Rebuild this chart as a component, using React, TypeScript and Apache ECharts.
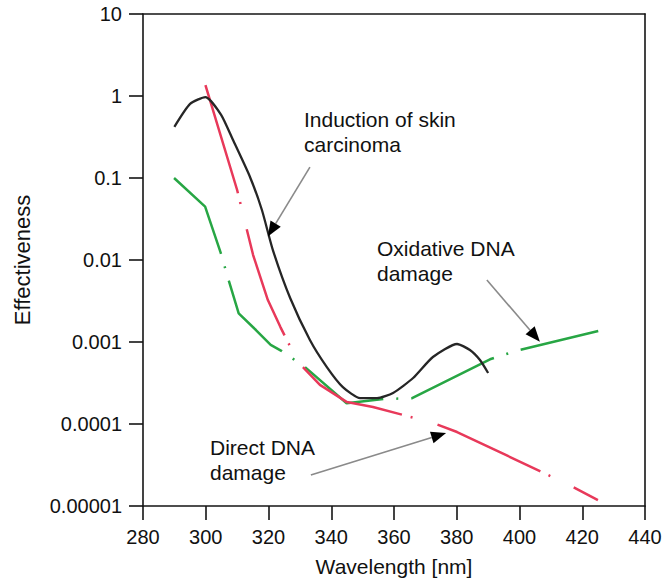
import React, { useEffect, useRef } from 'react';
import * as echarts from 'echarts';

// ---- data ----
const xTickValues = [280, 300, 320, 340, 360, 380, 400, 420, 440];
const yTickLabels = ['0.00001', '0.0001', '0.001', '0.01', '0.1', '1', '10'];

const skinWavelength = [290, 295, 299.9, 304.9, 308.7, 314.1, 317.9, 321.4, 326.9, 333.2, 338.6, 343.7, 349.2, 354.6, 359.7, 366.1, 372.4, 380.1, 384.2, 387.4, 390];
const skinEffect = [0.42, 0.8, 0.97, 0.59, 0.29, 0.103, 0.0407, 0.0132, 0.00344, 0.00106, 0.000495, 0.000282, 0.000207, 0.000207, 0.000239, 0.000364, 0.000656, 0.000946, 0.000798, 0.000602, 0.000419];

const directWavelength = [299.9, 310, 312.5, 315.1, 319.8, 323.8, 329.4, 336.4, 345, 353.3, 361.9, 372.4, 380.1, 406.5, 417, 425];
const directEffect = [1.36, 0.0714, 0.029, 0.0115, 0.00325, 0.00152, 0.00057, 0.0003, 0.000185, 0.000161, 0.000132, 0.000103, 0.0000798, 0.0000267, 0.0000171, 0.0000118];

const oxidWavelength = [289.9, 299.8, 304.8, 307.1, 310.5, 316, 320.7, 324.1, 331.6, 344.9, 356.7, 365.6, 390.6, 399.1, 425.1];
const oxidEffect = [0.1, 0.0447, 0.0121, 0.006, 0.00224, 0.0014, 0.00092, 0.00078, 0.000496, 0.000179, 0.000202, 0.000206, 0.000615, 0.000783, 0.00136];

const annotationTexts = ['Induction of skin\ncarcinoma', 'Oxidative DNA\ndamage', 'Direct DNA\ndamage'];
const annotationArrowFrom = [[333.2, 0.136], [389.6, 0.0057], [333.5, 0.0000239]];
const annotationArrowTo = [[319.8, 0.0194], [406.5, 0.00101], [376.6, 0.0000776]];

const FONT = '"Liberation Sans", Arial, Helvetica, sans-serif';

const pairs = (xs: number[], ys: number[]) => xs.map((x, i) => [x, ys[i]]);

export default function App() {
  const ref = useRef<HTMLDivElement>(null);

  useEffect(() => {
    document.body.style.margin = '0';
    const chart = echarts.init(ref.current!, null, { renderer: 'svg' });
    const axisLine = { show: true, lineStyle: { color: '#151515', width: 1.6 } };
    chart.setOption({
      animation: false,
      backgroundColor: '#ffffff',
      grid: { left: 143, right: 20, top: 14, bottom: 76, containLabel: false },
      xAxis: [
        {
          type: 'value', min: 280, max: 440, interval: 20, position: 'bottom',
          name: 'Wavelength [nm]', nameLocation: 'middle', nameGap: 50,
          nameTextStyle: { fontFamily: FONT, fontSize: 21, color: '#111' },
          axisLine,
          axisTick: { show: true, inside: false, length: 14, lineStyle: { color: '#151515', width: 1.6 } },
          axisLabel: { fontFamily: FONT, fontSize: 20, color: '#111', margin: 21,
            formatter: (v: number) => (xTickValues.includes(v) ? String(v) : '') },
          splitLine: { show: false },
        },
        {
          type: 'value', min: 280, max: 440, position: 'top',
          axisLine, axisTick: { show: false }, axisLabel: { show: false }, splitLine: { show: false },
        },
      ],
      yAxis: [
        {
          type: 'log', logBase: 10, min: 0.00001, max: 10, splitNumber: 6, position: 'left',
          name: 'Effectiveness', nameLocation: 'middle', nameGap: 110, nameRotate: 90,
          nameTextStyle: { fontFamily: FONT, fontSize: 22, color: '#111' },
          axisLine,
          axisTick: { show: true, inside: false, length: 14, lineStyle: { color: '#151515', width: 1.6 } },
          axisLabel: { fontFamily: FONT, fontSize: 20, color: '#111', margin: 21,
            formatter: (v: number) => yTickLabels[Math.round(Math.log10(v)) + 5] ?? '' },
          splitLine: { show: false },
          minorTick: { show: false },
        },
        {
          type: 'log', logBase: 10, min: 0.00001, max: 10, position: 'right',
          axisLine, axisTick: { show: false }, axisLabel: { show: false }, splitLine: { show: false },
        },
      ],
      series: [
        {
          name: 'Oxidative DNA damage', type: 'line', showSymbol: false, symbol: 'none',
          data: pairs(oxidWavelength, oxidEffect),
          lineStyle: { color: '#27a644', width: 2.5, type: [92, 13, 2, 13], cap: 'butt' },
          z: 2,
        },
        {
          name: 'Direct DNA damage', type: 'line', showSymbol: false, symbol: 'none',
          data: pairs(directWavelength, directEffect),
          lineStyle: { color: '#e8395a', width: 2.5, type: [113, 9, 2, 26], cap: 'butt' },
          z: 3,
        },
        {
          name: 'Induction of skin carcinoma', type: 'line', showSymbol: false, symbol: 'none',
          smooth: 0.2,
          data: pairs(skinWavelength, skinEffect),
          lineStyle: { color: '#262626', width: 2.3, type: 'solid' },
          z: 4,
        },
      ],
    });

    const textPos = [[304, 107], [377, 236], [210, 435]];
    const graphics: any[] = [];
    annotationTexts.forEach((t, i) => {
      graphics.push({
        type: 'text', x: textPos[i][0], y: textPos[i][1], z: 10,
        style: { text: t, fontFamily: FONT, fontSize: 21, lineHeight: 25, fill: '#111', verticalAlign: 'top', align: 'left' },
      });
      const p0 = chart.convertToPixel({ gridIndex: 0 } as any, annotationArrowFrom[i]) as number[];
      const p1 = chart.convertToPixel({ gridIndex: 0 } as any, annotationArrowTo[i]) as number[];
      const dx = p1[0] - p0[0];
      const dy = p1[1] - p0[1];
      const len = Math.hypot(dx, dy);
      const ux = dx / len, uy = dy / len;
      const nx = -uy, ny = ux;
      const L = 15, W = 6;
      const bx = p1[0] - ux * L, by = p1[1] - uy * L;
      graphics.push({
        type: 'line', z: 10,
        shape: { x1: p0[0], y1: p0[1], x2: bx, y2: by },
        style: { stroke: '#8a8a8a', lineWidth: 1.6 },
      });
      graphics.push({
        type: 'polygon', z: 11,
        shape: { points: [[p1[0], p1[1]], [bx + nx * W, by + ny * W], [bx - nx * W, by - ny * W]] },
        style: { fill: '#000' },
      });
    });
    chart.setOption({ graphic: graphics });

    return () => chart.dispose();
  }, []);

  return <div ref={ref} style={{ width: 665, height: 582 }} />;
}
